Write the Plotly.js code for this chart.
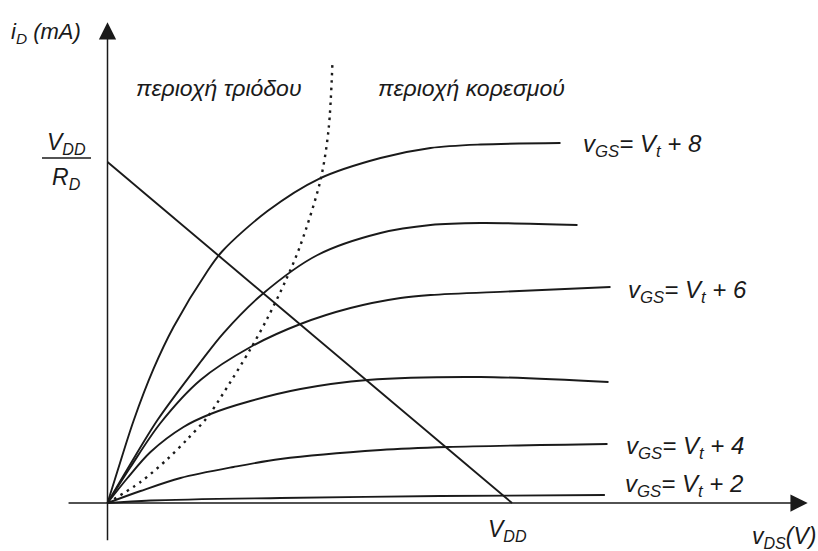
<!DOCTYPE html>
<html>
<head>
<meta charset="utf-8">
<script src="https://cdn.plot.ly/plotly-3.0.1.min.js"></script>
<style>
  html, body { margin: 0; padding: 0; background: #ffffff; }
  #chart { width: 818px; height: 551px; }
</style>
</head>
<body>
<div id="chart"></div>
<script>
// Output characteristics i_D(v_DS) of an n-channel MOSFET, one curve per v_GS step.
// v_DS in V, i_D in mA (V_DD = 10 V, V_DD/R_D = 10 mA).

const vDS_8 = [0, 0.247, 0.643, 1.137, 1.632, 2.472, 2.843, 3.956, 5.216, 6.749, 7.985, 9.221, 11.199];
const iD_8  = [0, 0.938, 2.405, 3.930, 5.161, 6.804, 7.390, 8.563, 9.501, 10.117, 10.411, 10.513, 10.557];

const vDS_7 = [0, 0.494, 1.236, 2.299, 2.868, 3.832, 5.192, 6.749, 7.985, 9.221, 11.619];
const iD_7  = [0, 0.997, 2.434, 4.135, 4.985, 6.129, 7.273, 7.918, 8.152, 8.211, 8.152];

const vDS_6 = [0, 0.569, 1.310, 2.299, 3.535, 4.771, 6.007, 7.244, 7.985, 10.037, 12.435];
const iD_6  = [0, 1.056, 2.346, 3.607, 4.575, 5.249, 5.718, 6.012, 6.100, 6.210, 6.334];

const vDS_5 = [0, 0.494, 1.063, 1.879, 2.546, 3.535, 4.771, 6.428, 9.221, 12.386];
const iD_5  = [0, 0.733, 1.496, 2.229, 2.610, 2.991, 3.343, 3.607, 3.695, 3.548];

const vDS_4 = [0, 0.816, 1.805, 3.115, 4.277, 6.749, 8.405, 12.361];
const iD_4  = [0, 0.352, 0.733, 1.056, 1.290, 1.554, 1.642, 1.730];

const vDS_2 = [0, 1.062, 4.272, 8.222, 12.296];
const iD_2  = [0, 0.073, 0.146, 0.205, 0.234];

// boundary between triode and saturation regions
const vDS_edge = [0, 0.816, 1.483, 1.978, 2.472, 2.868, 3.535, 3.956, 4.400, 4.771, 5.266, 5.464, 5.562];
const iD_edge  = [0, 0.616, 1.290, 1.877, 2.522, 3.226, 4.516, 5.425, 6.510, 7.566, 9.472, 10.938, 12.933];

// load line end points
const VDD = 10;
const VDD_over_RD = 10;

const curves = [
  { x: vDS_8, y: iD_8, label: 'v<sub>GS</sub>= V<sub>t</sub> + 8' },
  { x: vDS_7, y: iD_7, label: '' },
  { x: vDS_6, y: iD_6, label: 'v<sub>GS</sub>= V<sub>t</sub> + 6' },
  { x: vDS_5, y: iD_5, label: '' },
  { x: vDS_4, y: iD_4, label: 'v<sub>GS</sub>= V<sub>t</sub> + 4' },
  { x: vDS_2, y: iD_2, label: 'v<sub>GS</sub>= V<sub>t</sub> + 2' }
];
const labelShift = [
  { dx: 20, dy: -2 },
  null,
  { dx: 15, dy: -4 },
  null,
  { dx: 16, dy: -3 },
  { dx: 18, dy: 10 }
];

const INK = '#1a1a1a';
const FONT = 'Liberation Sans, Arial, Helvetica, sans-serif';

// axis extents (data units)
const xAxisFrom = -1.0, xAxisTo = 17.31;
const yAxisFrom = -1.14, yAxisTo = 14.1;

const traces = [];
curves.forEach(c => {
  traces.push({
    x: c.x, y: c.y, type: 'scatter', mode: 'lines',
    line: { color: INK, width: 1.9, shape: 'spline', smoothing: 0.9 },
    hoverinfo: 'skip', showlegend: false
  });
});
traces.push({
  x: vDS_edge, y: iD_edge, type: 'scatter', mode: 'lines',
  line: { color: INK, width: 2.4, shape: 'spline', smoothing: 0.9, dash: '2.5px,5px' },
  hoverinfo: 'skip', showlegend: false
});
traces.push({
  x: [0, VDD], y: [VDD_over_RD, 0], type: 'scatter', mode: 'lines',
  line: { color: INK, width: 1.9 },
  hoverinfo: 'skip', showlegend: false
});

const px = v => v / 818;
const py = v => 1 - v / 551;

const italic = (size) => ({ family: FONT, size: size, color: INK, style: 'italic' });

const annotations = [
  // axes with arrow heads
  { x: xAxisTo, y: 0, ax: xAxisFrom, ay: 0, xref: 'x', yref: 'y', axref: 'x', ayref: 'y',
    text: '', showarrow: true, arrowhead: 2, arrowsize: 2.3, arrowwidth: 1.5, arrowcolor: INK },
  { x: 0, y: yAxisTo, ax: 0, ay: yAxisFrom, xref: 'x', yref: 'y', axref: 'x', ayref: 'y',
    text: '', showarrow: true, arrowhead: 2, arrowsize: 2.3, arrowwidth: 1.5, arrowcolor: INK },
  // axis names
  { x: px(9), y: py(33), xref: 'paper', yref: 'paper', xanchor: 'left', yanchor: 'middle',
    text: 'i<sub>D</sub> (mA)', showarrow: false, font: italic(22) },
  { x: px(750), y: py(537), xref: 'paper', yref: 'paper', xanchor: 'left', yanchor: 'middle',
    text: 'v<sub>DS</sub>(V)', showarrow: false, font: italic(23) },
  // intercepts of the load line
  { x: px(66), y: py(143), xref: 'paper', yref: 'paper', xanchor: 'center', yanchor: 'middle',
    text: 'V<sub>DD</sub>', showarrow: false, font: italic(23) },
  { x: px(66), y: py(178), xref: 'paper', yref: 'paper', xanchor: 'center', yanchor: 'middle',
    text: 'R<sub>D</sub>', showarrow: false, font: italic(23) },
  { x: VDD, y: py(530), xref: 'x', yref: 'paper', xanchor: 'center', yanchor: 'middle', xshift: -5,
    text: 'V<sub>DD</sub>', showarrow: false, font: italic(23) },
  // regions
  { x: px(134), y: py(88), xref: 'paper', yref: 'paper', xanchor: 'left', yanchor: 'middle',
    text: 'περιοχή τριόδου', showarrow: false, font: italic(23) },
  { x: px(376), y: py(88), xref: 'paper', yref: 'paper', xanchor: 'left', yanchor: 'middle',
    text: 'περιοχή κορεσμού', showarrow: false, font: italic(23) }
];

curves.forEach((c, i) => {
  if (!c.label) return;
  const n = c.x.length - 1;
  annotations.push({
    x: c.x[n], y: c.y[n], xref: 'x', yref: 'y', xanchor: 'left', yanchor: 'middle',
    xshift: labelShift[i].dx, yshift: labelShift[i].dy,
    text: c.label, showarrow: false, font: italic(24)
  });
});

const layout = {
  width: 818, height: 551,
  margin: { l: 0, r: 0, t: 0, b: 0 },
  paper_bgcolor: '#ffffff', plot_bgcolor: '#ffffff',
  showlegend: false,
  xaxis: { range: [-107.5 / 40.45, 710.5 / 40.45], visible: false, fixedrange: true },
  yaxis: { range: [-48 / 34.1, 503 / 34.1], visible: false, fixedrange: true },
  shapes: [
    // fraction bar of V_DD / R_D
    { type: 'line', xref: 'paper', yref: 'paper', x0: px(42), x1: px(91), y0: py(158), y1: py(158),
      line: { color: INK, width: 1.7 } }
  ],
  annotations: annotations
};

Plotly.newPlot('chart', traces, layout, { staticPlot: true, displayModeBar: false });
</script>
</body>
</html>
